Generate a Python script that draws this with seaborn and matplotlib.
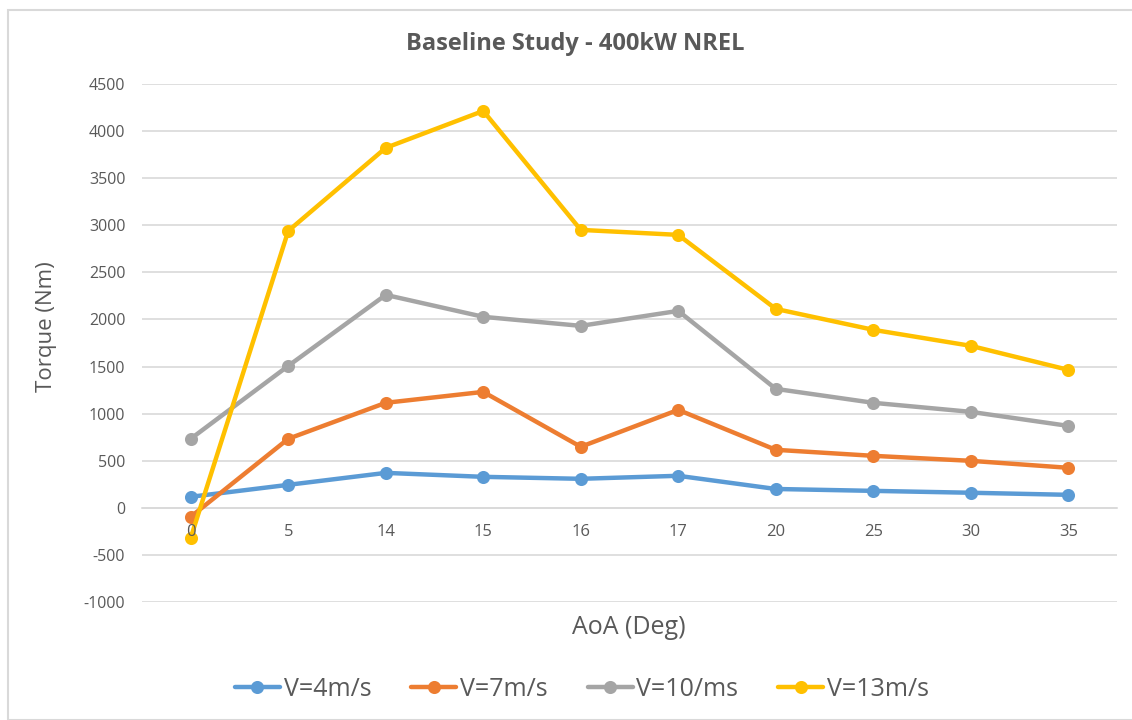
import matplotlib
matplotlib.use("Agg")
import matplotlib.pyplot as plt
import seaborn as sns
import pandas as pd
from matplotlib.patches import Rectangle

categories = ["0", "5", "14", "15", "16", "17", "20", "25", "30", "35"]
series_names = ["V=4m/s", "V=7m/s", "V=10/ms", "V=13m/s"]
v4 = [117, 244, 371, 329, 308, 340, 200, 180, 160, 138]
v7 = [-95, 733, 1115, 1231, 648, 1040, 616, 552, 499, 425]
v10 = [733, 1507, 2261, 2028, 1932, 2091, 1263, 1115, 1019, 870]
v13 = [-318, 2940, 3822, 4214, 2951, 2898, 2112, 1890, 1720, 1465]
colors = ["#5B9BD5", "#ED7D31", "#A5A5A5", "#FFC000"]
yticks = list(range(-1000, 4501, 500))

rows = []
for name, vals in zip(series_names, [v4, v7, v10, v13]):
    for c, v in zip(categories, vals):
        rows.append({"AoA": c, "Torque": v, "Series": name})
df = pd.DataFrame(rows)

sns.set_theme(style="white")
plt.rcParams["font.family"] = ["Open Sans", "DejaVu Sans"]
plt.rcParams["axes.unicode_minus"] = False
txt = "#595959"

fig = plt.figure(figsize=(11.32, 7.2), dpi=100)
ax = fig.add_axes([142/1132, 1-602/720, 975/1132, 518/720])

sns.pointplot(data=df, x="AoA", y="Torque", hue="Series", order=categories,
              hue_order=series_names, palette=colors, markers="o",
              linestyles="-", errorbar=None, ax=ax, linewidth=3.2,
              markersize=7, legend=True)

ax.set_ylim(-1000, 4500)
ax.set_xlim(-0.5, len(categories) - 0.5)
ax.set_yticks(yticks)
ax.yaxis.grid(True, color="#d9d9d9", linewidth=1.2)
ax.set_axisbelow(True)
for s in ["left", "right", "top"]:
    ax.spines[s].set_visible(False)
ax.spines["bottom"].set_position(("data", 0))
ax.spines["bottom"].set_color("#d9d9d9")
ax.spines["bottom"].set_linewidth(1.2)
ax.spines["bottom"].set_zorder(0.5)
ax.xaxis.set_zorder(10)
ax.tick_params(axis="y", length=0, pad=12, labelsize=11.5, labelcolor=txt)
ax.tick_params(axis="x", length=0, pad=12, labelsize=12, labelcolor=txt)
ax.set_xlabel("")
ax.set_ylabel("Torque (Nm)", fontsize=16, color=txt)
ax.yaxis.set_label_coords(-0.087, 0.531)

handles, labels = ax.get_legend_handles_labels()
ax.get_legend().remove()
fig.legend(handles, labels, loc="center", bbox_to_anchor=(582/1132, 1-689/720),
           ncol=4, frameon=False, fontsize=18, labelcolor=txt,
           handlelength=1.8, handletextpad=0.15, columnspacing=1.6)

fig.text(629/1132, 1-627/720, "AoA (Deg)", ha="center", va="center",
         fontsize=18, color=txt)
fig.text(575/1132, 1-44/720, "Baseline Study - 400kW NREL", ha="center",
         va="center", fontsize=17, fontweight="bold", color=txt)

fig.patches.append(Rectangle((8/1132, 0), 1.2, 1-10/720, transform=fig.transFigure,
                             fill=False, edgecolor="#d9d9d9", linewidth=1.5))

fig.savefig("out.png", dpi=100)
